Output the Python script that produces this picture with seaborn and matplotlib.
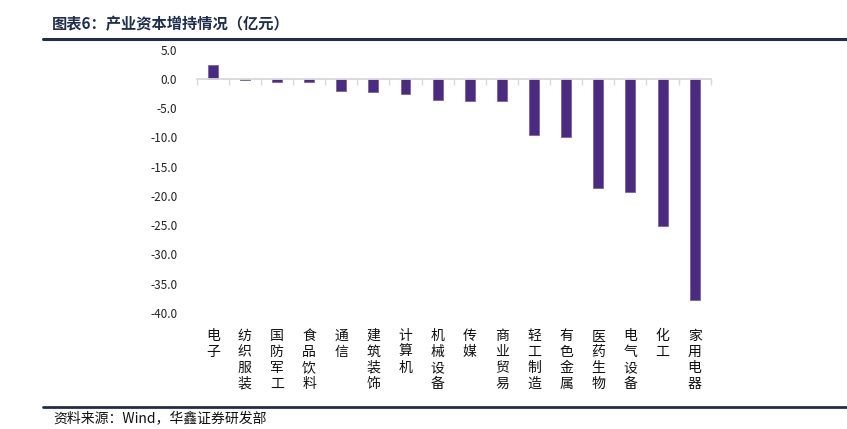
import numpy as np
import pandas as pd
import matplotlib
matplotlib.use('Agg')
import matplotlib.pyplot as plt
import matplotlib.transforms as mtransforms
import seaborn as sns

categorias = ['电子', '纺织服装', '国防军工', '食品饮料', '通信', '建筑装饰', '计算机', '机械设备',
              '传媒', '商业贸易', '轻工制造', '有色金属', '医药生物', '电气设备', '化工', '家用电器']
valores = [2.4, -0.1, -0.5, -0.6, -2.1, -2.3, -2.5, -3.6,
           -3.7, -3.8, -9.6, -9.9, -18.6, -19.4, -25.1, -37.8]
y_ticks = [5, 0, -5, -10, -15, -20, -25, -30, -35, -40]

titulo = '图表6：产业资本增持情况（亿元）'
fonte = '资料来源：Wind，华鑫证券研发部'

def gerar_grafico():
    df = pd.DataFrame({'setor': categorias, 'valor': valores})

    sns.set_theme(style='white')
    plt.rcParams['font.family'] = ['Noto Sans CJK SC', 'DejaVu Sans']
    plt.rcParams['axes.unicode_minus'] = False

    fig = plt.figure(figsize=(8.47, 4.29), dpi=100)
    ax = fig.add_axes([0.2322, 0.2704, 0.6069, 0.6137])

    sns.barplot(data=df, x='setor', y='valor', color='#4b2a82', width=0.31,
                saturation=1, ax=ax, edgecolor='#7a64a8', linewidth=0.6)

    ax.set_xlim(-0.5, 15.5)
    ax.set_ylim(-40, 5)
    ax.set_yticks(y_ticks)
    ax.set_yticklabels([f'{v:.1f}' for v in y_ticks], fontsize=8.5, color='#222222')
    ax.tick_params(axis='y', length=0, pad=14)
    ax.set_xlabel('')
    ax.set_ylabel('')

    # eixo x passando pelo zero
    for lado in ['top', 'right', 'left']:
        ax.spines[lado].set_visible(False)
    ax.spines['bottom'].set_position(('data', 0))
    ax.spines['bottom'].set_color('#d9d9d9')
    ax.spines['bottom'].set_linewidth(1.3)
    ax.set_xticks(range(len(categorias)))
    ax.set_xticklabels([])
    ax.tick_params(axis='x', which='major', length=0)
    ax.set_xticks(np.arange(-0.5, len(categorias), 1), minor=True)
    ax.tick_params(axis='x', which='minor', length=4, width=1, color='#d9d9d9', direction='out', bottom=True)

    # rótulos verticais embaixo
    trans = mtransforms.blended_transform_factory(ax.transData, fig.transFigure)
    for i, nome in enumerate(categorias):
        ax.text(i, 1 - 329 / 429, '\n'.join(nome), transform=trans, ha='center', va='top',
                fontsize=10, color='#111111', linespacing=1.18, clip_on=False)

    # título e linhas
    fig.text(52 / 847, 1 - 24 / 429, titulo, fontsize=11, fontweight='bold', color='#1f2d4e',
             ha='left', va='center')
    fig.add_artist(plt.Line2D([43 / 847, 1], [1 - 39 / 429] * 2, color='#1f2d4e', linewidth=2.2))
    fig.add_artist(plt.Line2D([43 / 847, 1], [1 - 406.5 / 429] * 2, color='#1f2d4e', linewidth=2))
    fig.text(53 / 847, 1 - 418 / 429, fonte, fontsize=10, color='#111111', ha='left', va='center')

    fig.savefig('out.png', dpi=100)

if __name__ == '__main__':
    gerar_grafico()
